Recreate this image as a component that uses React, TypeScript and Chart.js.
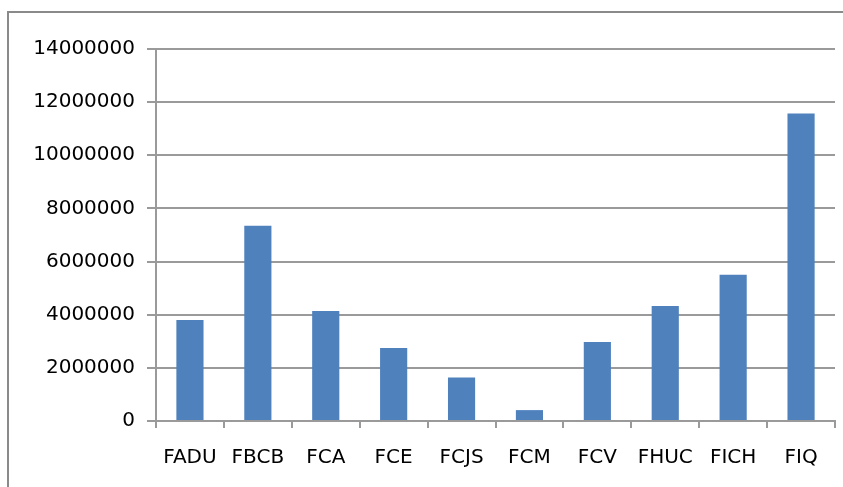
import React, { useEffect, useRef } from "react";
import { Chart, registerables } from "chart.js";

Chart.register(...registerables);

const categories = ["FADU", "FBCB", "FCA", "FCE", "FCJS", "FCM", "FCV", "FHUC", "FICH", "FIQ"];
const values = [3800000, 7350000, 4140000, 2750000, 1640000, 410000, 2970000, 4330000, 5500000, 11570000];
const yMin = 0;
const yMax = 14000000;
const yStep = 2000000;

const W = 843;
const H = 487;

const frame = {
  id: "frame",
  beforeDraw(chart: any) {
    const ctx = chart.ctx;
    ctx.save();
    ctx.fillStyle = "#ffffff";
    ctx.fillRect(0, 0, W, H);
    ctx.strokeStyle = "#8a8a8a";
    ctx.lineWidth = 2;
    ctx.strokeRect(8, 12, 1000, 1000);
    ctx.restore();
  },
};

export default function App() {
  const ref = useRef<HTMLCanvasElement | null>(null);
  useEffect(() => {
    if (!ref.current) return;
    const font = { family: "DejaVu Sans", size: 20 };
    const chart = new Chart(ref.current, {
      type: "bar",
      data: {
        labels: categories,
        datasets: [
          {
            data: values,
            backgroundColor: "#4F81BD",
            barPercentage: 0.4,
            categoryPercentage: 1,
          },
        ],
      },
      options: {
        animation: false,
        responsive: false,
        devicePixelRatio: 1,
        layout: { padding: { left: 0, top: 49, right: 8, bottom: 0 } },
        plugins: { legend: { display: false }, tooltip: { enabled: false } },
        scales: {
          x: {
            offset: true,
            grid: { display: true, drawOnChartArea: false, drawTicks: true, tickLength: 7, color: "#9a9a9a", lineWidth: 2, offset: true },
            border: { display: true, color: "#9a9a9a", width: 2 },
            ticks: { color: "#000000", font, padding: 18, maxRotation: 0, autoSkip: false },
            afterFit(scale: any) {
              scale.height = 66;
            },
          },
          y: {
            min: yMin,
            max: yMax,
            ticks: {
              stepSize: yStep,
              color: "#000000",
              font,
              padding: 12,
              callback: (v: any) => String(v),
            },
            grid: { color: "#9a9a9a", lineWidth: 2, tickLength: 9 },
            border: { display: true, color: "#9a9a9a", width: 2 },
            afterFit(scale: any) {
              scale.width = 156;
            },
          },
        },
      },
      plugins: [frame],
    });
    return () => chart.destroy();
  }, []);
  return (
    <div style={{ position: "fixed", left: 0, top: 0, width: W, height: H, background: "#fff" }}>
      <canvas ref={ref} width={W} height={H} style={{ width: W, height: H, display: "block" }} />
    </div>
  );
}
